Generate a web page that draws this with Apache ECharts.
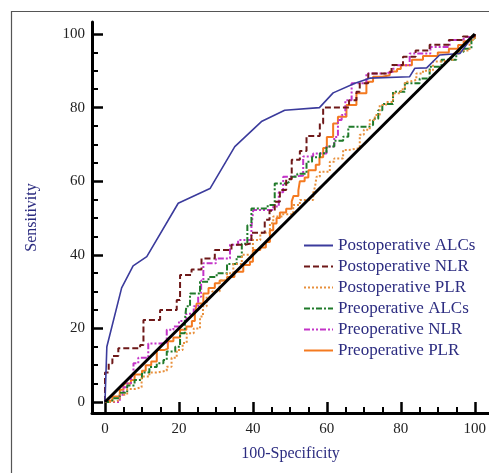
<!DOCTYPE html>
<html>
<head>
<meta charset="utf-8">
<script src="https://cdn.jsdelivr.net/npm/echarts@6/dist/echarts.min.js"></script>
<style>
html,body{margin:0;padding:0;background:#fff;}
#c{width:489px;height:473px;}
</style>
</head>
<body>
<div id="c"></div>
<script>
// ---- data ----
const seriesNames = ['Postoperative ALCs','Postoperative NLR','Postoperative PLR','Preoperative ALCs','Preoperative NLR','Preoperative PLR'];
const axisMin = 0, axisMax = 100, majorStep = 20;

const postALCs = [[0,0],[0.5,15],[4.5,31],[7.6,37],[11.3,39.5],[19.8,54],[23,55.5],[28.4,58],[35.1,69.4],[42.3,76.2],[48.6,79.3],[58,80],[61.7,84],[67.6,86.6],[71.6,88],[82.4,88.4],[83.8,90.7],[87,90.8],[90.5,94.3],[96,94.7],[99,98.8],[100,100]];

const postNLR = [[0,0],[0,8],[1,10.5],[2,12.5],[3.6,14.6],[9.5,15.5],[10.4,22.3],[14.9,25],[19.4,27.7],[20.3,34.5],[23.4,36],[26.1,39],[29.7,41.3],[34.2,42.7],[37.8,43.1],[39.6,46],[43.2,49.5],[44.5,52],[45.9,54.4],[47.3,57.6],[49,60.5],[50.5,65.8],[52.7,68.2],[54.5,72.3],[58.1,75.7],[59,80],[64.9,80],[66,82],[68,84.3],[68.9,86.6],[71.2,89.3],[76.6,89.8],[77.5,91.6],[80.6,93.8],[84,95.5],[87.8,97.1],[93,98.4],[96.8,99.3],[100,100]];

const postPLR = [[0,0],[2,0.5],[4,2],[6,3.5],[8,4],[9.9,6.9],[12,8],[14,8.5],[16.7,9.6],[18,12],[19.4,14.1],[21,16],[22.1,18.7],[24,20],[25.7,23.2],[26.5,26],[27.5,28.6],[29,30],[31,33],[33,35],[34.7,37.5],[37,40],[40,44],[42,46],[44.6,48.6],[45.5,50.4],[48,51],[50.9,53.5],[52.7,54.9],[56.3,56.7],[56.8,58.5],[57.2,61.2],[58.1,62.6],[60.8,65.3],[62,66.2],[64.4,68.5],[66,69],[68.9,72.6],[70,74],[71.6,76.6],[73,78],[74.3,80.7],[76,81.5],[77.9,83.9],[80,85],[81.1,87],[82,87.5],[84.2,89.3],[86,90],[88.7,92.5],[91,93],[94.1,94.7],[96,95.5],[98.6,98.4],[100,100]];

const preALCs = [[0,0],[2,1],[4,2.5],[6,4.5],[8,6],[10,8],[12,9.5],[14,10.5],[15.8,11.4],[16.7,13.7],[19,15],[20.3,18.7],[21.6,22.3],[22,26],[23,29.5],[25.7,32.7],[28,34],[30.2,35],[33,37.5],[35.6,39.5],[37,43],[38.5,48],[39.6,52.6],[44,53.5],[45.9,59.4],[49.1,59.9],[50,61.2],[52,62],[54.5,65.3],[56,66.5],[58.1,67.6],[59.9,69.4],[62,71],[64.4,72.1],[65.8,74.8],[71.6,75.3],[72.5,77],[73.9,79.3],[75,81],[77.9,84.3],[81.1,86.6],[85.1,87.9],[87.8,91.1],[91,93],[95,95.2],[97,96],[99.1,98.8],[100,100]];

const preNLR = [[0,0],[3,0],[4,2],[5,4],[6,5],[7,7],[7.7,10.5],[9,12],[11.7,15.9],[15,16],[16.7,19.6],[18.5,20.5],[20,22],[22,24],[24,26],[25.2,28.6],[26,33],[26.6,37.7],[30,39],[33.8,42.7],[36,44],[39.6,47.6],[40.1,52.2],[45.5,53.1],[47,57],[48.2,61.2],[50,61.5],[53.6,66.7],[56.3,67.5],[59.9,69.4],[62,72],[63,76.6],[64,78],[65,82],[66.7,86.6],[70.7,89.3],[76.1,89.8],[78,91.5],[82.4,94.7],[88,96.5],[93.2,98.4],[97,99.2],[100,100]];

const prePLR = [[0,0],[0.5,0.5],[2,1.5],[4,3.3],[5,5],[7,6],[8,7.5],[10,8.5],[11,10],[12.5,11],[14,14.1],[16,14.5],[17,16.5],[18.5,17.5],[20.3,19.6],[22,20.5],[23.5,22],[24.3,24.1],[24.8,26.8],[26.6,29.5],[28,31],[29.7,32.3],[31,33],[33,34],[35,35.4],[37.4,37.2],[39.2,38.1],[40,41.3],[42,42],[43.5,43.5],[44.6,46.7],[45.5,48.5],[46.4,50],[47.3,51.5],[49,52.5],[50.5,54.5],[51,56],[52.3,57.5],[52.7,60],[54,61],[55,63],[57,64.5],[58,66.5],[59,69],[60,72],[61.7,75.7],[63,77.5],[65.3,80.7],[68,83.9],[70.7,87],[72.5,88.4],[75,88.8],[77,89.8],[79,90.5],[80,91.5],[83,93],[86,94],[90,95],[93,96],[95.5,97],[97,98],[99,99.2],[100,100]];

const diagonal = [[0,0],[100,100]];

// ---- chart ----
const chart = echarts.init(document.getElementById('c'));
const serif = '"Liberation Serif","Times New Roman",serif';
const navy = '#2c2c80';

const styles = [
  {color:'#3b3b9c', width:1.6, type:'solid', step:false},
  {color:'#6e1818', width:2, type:[6,3], step:'end'},
  {color:'#e8903c', width:2, type:[2,2], step:'end'},
  {color:'#1f7a2a', width:2, type:[6,2,2,2], step:'end'},
  {color:'#c334c8', width:2, type:[6,2,2,2,2,2], step:'end'},
  {color:'#f47a20', width:2, type:'solid', step:'end'}
];
const datas = [postALCs, postNLR, postPLR, preALCs, preNLR, prePLR];

const series = seriesNames.map((n,i)=>({
  name:n, type:'line', data:datas[i], showSymbol:false, symbol:'none',
  step:styles[i].step, xAxisIndex:1, yAxisIndex:1,
  lineStyle:{color:styles[i].color,width:styles[i].width,type:styles[i].type},
  itemStyle:{color:styles[i].color},
  z: 3 + (5-i)
}));
series.push({
  name:'ref', type:'line', data:diagonal, showSymbol:false, symbol:'none',
  xAxisIndex:1, yAxisIndex:1,
  lineStyle:{color:'#000',width:3}, z:10
});

// outer grid: full axis lines + names; inner grid: the 0..100 data frame with ticks/labels
const lineAxis = {
  type:'value', axisLine:{show:true,onZero:false,lineStyle:{color:'#000',width:3}},
  axisTick:{show:false}, axisLabel:{show:false}, splitLine:{show:false}
};
const tickAxis = {
  type:'value', min:axisMin, max:axisMax, interval:majorStep,
  axisLine:{show:false,onZero:false},
  axisTick:{show:true,inside:true,length:11,lineStyle:{color:'#000',width:2.5}},
  minorTick:{show:true,splitNumber:4,length:6,lineStyle:{color:'#000',width:2}},
  axisLabel:{show:true,color:'#222',fontFamily:serif,fontSize:15},
  splitLine:{show:false}, minorSplitLine:{show:false}
};

chart.setOption({
  animation:false,
  backgroundColor:'#fff',
  graphic:[{type:'rect',shape:{x:11.5,y:11.5,width:520,height:520},style:{fill:'none',stroke:'#555',lineWidth:1.2},z:-1}],
  grid:[
    {left:92,top:22,width:398,height:391,containLabel:false},
    {left:105,top:34,width:370,height:368,containLabel:false}
  ],
  xAxis:[
    Object.assign({}, lineAxis, {gridIndex:0,min:-3.5,max:104,name:'100-Specificity',nameLocation:'middle',nameGap:33,
      nameTextStyle:{color:navy,fontFamily:serif,fontSize:16}}),
    Object.assign({}, tickAxis, {gridIndex:1,position:'bottom',offset:11,
      axisLabel:Object.assign({}, tickAxis.axisLabel, {margin:9})})
  ],
  yAxis:[
    Object.assign({}, lineAxis, {gridIndex:0,min:-3,max:103.3,name:'Sensitivity',nameLocation:'middle',nameGap:52,
      nameTextStyle:{color:navy,fontFamily:serif,fontSize:16}}),
    Object.assign({}, tickAxis, {gridIndex:1,position:'left',offset:13,
      axisLabel:Object.assign({}, tickAxis.axisLabel, {margin:7})})
  ],
  legend:{
    data:seriesNames, left:298, top:232, orient:'vertical',
    itemWidth:29, itemHeight:14, itemGap:4,
    itemStyle:{opacity:0},
    textStyle:{color:navy,fontFamily:serif,fontSize:17,lineHeight:17}
  },
  series:series
});
</script>
</body>
</html>
